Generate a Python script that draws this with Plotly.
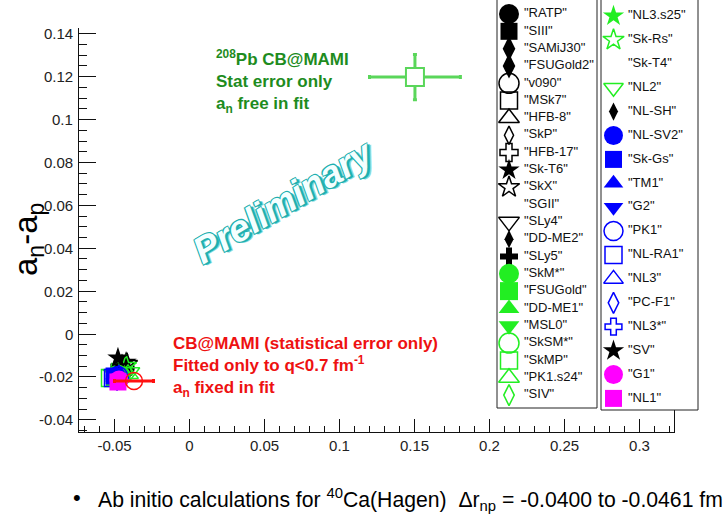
import plotly.graph_objects as go

W, H = 725, 514

# ---------------- data ----------------
models = ["RATP", "SIII", "SAMiJ30", "FSUGold2", "v090", "MSk7", "HFB-8", "SkP", "HFB-17",
          "Sk-T6", "SkX", "SGII", "SLy4", "DD-ME2", "SLy5", "SkM*", "FSUGold", "DD-ME1",
          "MSL0", "SkSM*", "SkMP", "PK1.s24", "SIV",
          "NL3.s25", "Sk-Rs", "Sk-T4", "NL2", "NL-SH", "NL-SV2", "Sk-Gs", "TM1", "G2",
          "PK1", "NL-RA1", "NL3", "PC-F1", "NL3*", "SV", "G1", "NL1"]

model_x = [-0.0463, -0.0470, -0.0457, -0.0450, -0.0437, -0.0463, -0.0443, -0.0430, -0.0457,
           -0.0423, -0.0417, -0.0457, -0.0450, -0.0477, -0.0470, -0.0483, -0.0497, -0.0490,
           -0.0483, -0.0463, -0.0530, -0.0410, -0.0437,
           -0.0517, -0.0423, -0.0463, -0.0397, -0.0483, -0.0490, -0.0503, -0.0497, -0.0490,
           -0.0477, -0.0510, -0.0470, -0.0483, -0.0497, -0.0477, -0.0470, -0.0477]

model_y = [-0.0168, -0.0177, -0.0159, -0.0149, -0.0159, -0.0182, -0.0149, -0.0168, -0.0172,
           -0.0131, -0.0140, -0.0168, -0.0177, -0.0182, -0.0168, -0.0191, -0.0200, -0.0186,
           -0.0205, -0.0196, -0.0205, -0.0186, -0.0196,
           -0.0182, -0.0149, -0.0177, -0.0177, -0.0172, -0.0200, -0.0196, -0.0191, -0.0210,
           -0.0196, -0.0205, -0.0186, -0.0214, -0.0205, -0.0112, -0.0214, -0.0224]

# CB@MAMI 40Ca (statistical error only, a_n fixed)
ca_x = [-0.0370]
ca_y = [-0.0219]
ca_ex = [0.0130]

# 208Pb CB@MAMI (a_n free)
pb_x = [0.1503]
pb_y = [0.1198]
pb_ex = [0.0303]
pb_ey = [0.0105]

x_tickvals = [-0.05, 0, 0.05, 0.1, 0.15, 0.2, 0.25, 0.3]
x_ticktext = ["-0.05", "0", "0.05", "0.1", "0.15", "0.2", "0.25", "0.3"]
y_tickvals = [-0.04, -0.02, 0, 0.02, 0.04, 0.06, 0.08, 0.1, 0.12, 0.14]
y_ticktext = ["-0.04", "-0.02", "0", "0.02", "0.04", "0.06", "0.08", "0.1", "0.12", "0.14"]

# ---------------- styles ----------------
K, G, B, M = "#000000", "#22ee22", "#0000ff", "#ff00ff"
symbols = ["circle", "square", "diamond-tall", "diamond-tall", "circle-open", "square-open",
           "triangle-up-open", "diamond-tall-open", "cross-open", "star", "star-open", None,
           "triangle-down-open", "diamond-tall", "cross", "circle", "square", "triangle-up",
           "triangle-down", "circle-open", "square-open", "triangle-up-open", "diamond-tall-open",
           "star", "star-open", None, "triangle-down-open", "diamond-tall", "circle", "square",
           "triangle-up", "triangle-down", "circle-open", "square-open", "triangle-up-open",
           "diamond-tall-open", "cross-open", "star", "circle", "square"]
colors = [K, K, K, K, K, K, K, K, K, K, K, K, K, K, K, G, G, G, G, G, G, G, G,
          G, G, G, G, K, B, B, B, B, B, B, B, B, B, K, M, M]
sizes = [20, 17, 18, 18, 20, 17, 18, 13, 15, 16, 16, 0, 18, 13, 15, 20, 18, 18, 18, 20, 17, 18, 15,
         16, 16, 0, 17, 13, 19, 17, 17, 17, 19, 17, 17, 15, 14, 16, 19, 17]

sym_used = [s if s else "circle" for s in symbols]
opac = [1 if s else 0 for s in symbols]
lw = [1.5 if (s and s.endswith("-open")) else 0 for s in symbols]

FONT = "Liberation Sans, Arial, Helvetica, sans-serif"
Y_RANGE = [-0.0455, 0.1427]
Y_DOMAIN = [1 - 431.6 / H, 1 - 28 / H]

fig = go.Figure()

# model cluster
fig.add_trace(go.Scatter(
    x=model_x, y=model_y, mode="markers", xaxis="x", yaxis="y",
    marker=dict(symbol=sym_used, color=colors, size=sizes, opacity=opac,
                line=dict(color=colors, width=lw)),
    hoverinfo="skip"))

# 40Ca CB@MAMI
fig.add_trace(go.Scatter(
    x=ca_x, y=ca_y, mode="markers", xaxis="x", yaxis="y",
    marker=dict(symbol="circle-open", color="#ff1010", size=17, line=dict(width=1.5, color="#ff1010")),
    error_x=dict(type="data", array=ca_ex, color="#ff1010", thickness=3, width=2),
    hoverinfo="skip"))

# 208Pb CB@MAMI
fig.add_trace(go.Scatter(
    x=pb_x, y=pb_y, mode="markers", xaxis="x", yaxis="y",
    marker=dict(symbol="square", color="white", size=18, line=dict(width=2, color="#5ad65a")),
    error_x=dict(type="data", array=pb_ex, color="#5ad65a", thickness=3, width=2),
    error_y=dict(type="data", array=pb_ey, color="#5ad65a", thickness=3, width=2),
    hoverinfo="skip"))

# ---------------- legend (pixel overlay axes) ----------------
n_left = 23
leg_mx, leg_my, leg_tx = [], [], []
for i in range(len(models)):
    if i < n_left:
        leg_mx.append(509); leg_tx.append(524); leg_my.append(14 + 17.32 * i)
    else:
        leg_mx.append(613.5); leg_tx.append(628); leg_my.append(16 + 23.9 * (i - n_left))

fig.add_trace(go.Scatter(
    x=leg_mx, y=leg_my, mode="markers", xaxis="x2", yaxis="y2",
    marker=dict(symbol=sym_used, color=colors, size=sizes, opacity=opac,
                line=dict(color=colors, width=lw)),
    hoverinfo="skip"))
fig.add_trace(go.Scatter(
    x=leg_tx, y=leg_my, mode="text", xaxis="x2", yaxis="y2",
    text=['"%s"' % m for m in models], textposition="middle right",
    textfont=dict(family=FONT, size=13, color="#111"),
    hoverinfo="skip"))

shapes = [
    dict(type="rect", xref="x2", yref="y2", x0=497, x1=597, y0=-3, y1=408,
         fillcolor="white", line=dict(color="#222", width=1), layer="below"),
    dict(type="rect", xref="x2", yref="y2", x0=601, x1=698, y0=-3, y1=410,
         fillcolor="white", line=dict(color="#222", width=1), layer="below"),
]

def px(x):
    return x / W

def py(y):
    return 1 - y / H

axis_font = dict(family=FONT, size=15, color="#222")

annotations = [
    dict(text="a<sub>n</sub>-a<sub>p</sub>", x=px(28), y=py(240), xref="paper", yref="paper",
         xanchor="center", yanchor="middle",
         textangle=-90, showarrow=False, font=dict(family=FONT, size=33, color="#000")),
    dict(text="<b><sup>208</sup>Pb CB@MAMI<br>Stat error only<br>a<sub>n</sub> free in fit</b>",
         x=px(214), y=py(81), xref="paper", yref="paper", xanchor="left", yanchor="middle",
         align="left", showarrow=False, font=dict(family=FONT, size=17, color="#1e8c1e")),
    dict(text="<b>CB@MAMI (statistical error only)<br>Fitted only to q<0.7 fm<sup>-1</sup><br>a<sub>n</sub> fixed in fit</b>",
         x=px(171), y=py(367), xref="paper", yref="paper", xanchor="left", yanchor="middle",
         align="left", showarrow=False, font=dict(family=FONT, size=17, color="#ee1111")),
    dict(text="Preliminary", x=px(284), y=py(202), xref="paper", yref="paper",
         xanchor="center", yanchor="middle",
         textangle=-31, showarrow=False,
         font=dict(family=FONT, size=37, color="#f4ffff", style="italic", weight="bold",
                   shadow="-1px -1px 0 #1fb0b0, 1px -1px 0 #1fb0b0, -1px 1px 0 #1fb0b0, 1px 1px 0 #1fb0b0, 2px 2px 0 #1fb0b0, 3px 3px 0 #8adada")),
    dict(text="•", x=px(77), y=py(497), xref="paper", yref="paper", xanchor="center", yanchor="middle",
         showarrow=False, font=dict(family=FONT, size=22, color="#000")),
    dict(text="Ab initio calculations for <sup>40</sup>Ca(Hagen)  Δr<sub>np</sub> = -0.0400 to -0.0461 fm",
         x=px(96), y=py(499), xref="paper", yref="paper", xanchor="left", yanchor="middle",
         showarrow=False,
         font=dict(family=FONT, size=21.2, color="#000")),
]

# y tick labels placed on the y scale
for v, t in zip(y_tickvals, y_ticktext):
    annotations.append(dict(text=t, x=px(75), y=v, xref="paper", yref="y",
                            xanchor="right", yanchor="middle", showarrow=False,
                            font=axis_font))

fig.update_layout(
    width=W, height=H,
    margin=dict(l=0, r=0, t=0, b=0),
    paper_bgcolor="white", plot_bgcolor="rgba(0,0,0,0)",
    showlegend=False, hovermode=False,
    shapes=shapes, annotations=annotations,
    xaxis=dict(domain=[78.95 / W, 674 / W], range=[-0.0737, 0.323], anchor="y",
               showline=True, linecolor="#111", linewidth=1, mirror=False,
               showgrid=False, zeroline=False,
               ticks="inside", ticklen=13, tickcolor="#111", tickwidth=1,
               tickvals=x_tickvals, ticktext=x_ticktext, tickfont=axis_font,
               minor=dict(dtick=0.01, tick0=0, ticks="inside", ticklen=6, tickcolor="#111", showgrid=False)),
    yaxis=dict(domain=Y_DOMAIN, range=Y_RANGE, anchor="x",
               showline=True, linecolor="#111", linewidth=1, mirror=True,
               showgrid=False, zeroline=False, showticklabels=False,
               ticks="inside", ticklen=17, tickcolor="#111", tickwidth=1,
               tickvals=y_tickvals,
               minor=dict(dtick=0.005, tick0=0, ticks="inside", ticklen=8, tickcolor="#111", showgrid=False)),
    xaxis2=dict(domain=[0, 1], range=[0, W], anchor="y2", visible=False, fixedrange=True),
    yaxis2=dict(domain=[0, 1], range=[H, 0], anchor="x2", visible=False, fixedrange=True),
)

fig.write_html("out.html")
